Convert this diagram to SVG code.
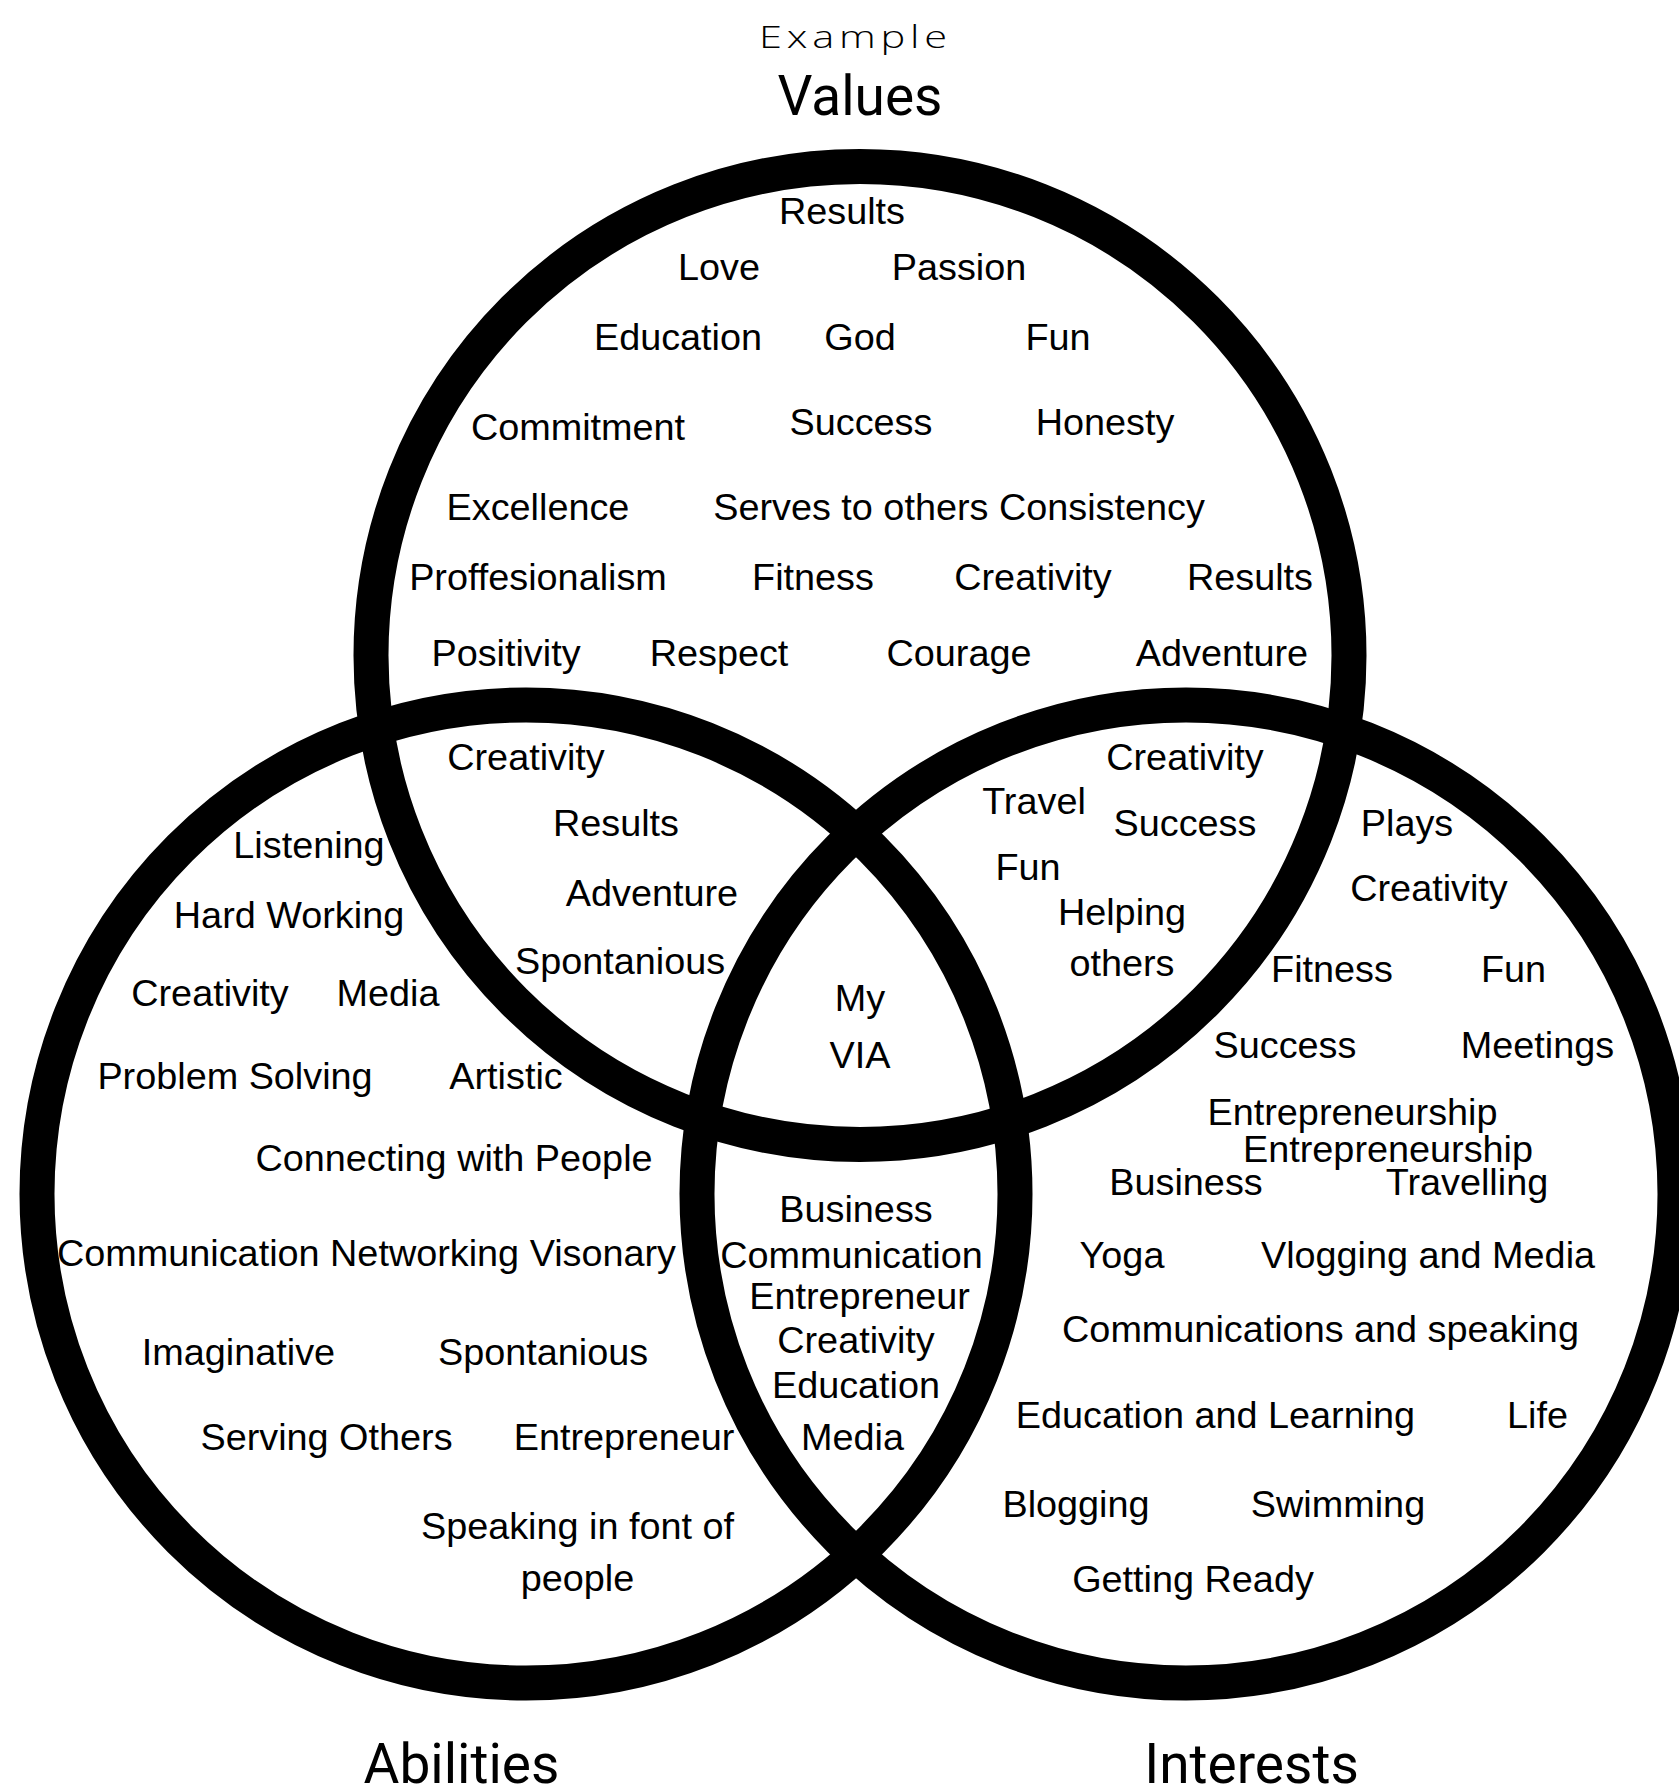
<svg xmlns="http://www.w3.org/2000/svg" width="1679" height="1790" viewBox="0 0 1679 1790">
<style>
.c{fill:none;stroke:#000;stroke-width:35}
.t{font-family:"Liberation Sans",Arial,sans-serif;font-size:37.8px;fill:#000;text-anchor:middle}
.h{font-family:Roboto,"Liberation Sans",sans-serif;font-size:55px;fill:#000;text-anchor:middle}
.e{font-family:"Open Sans","Liberation Sans",sans-serif;font-weight:300;font-size:32px;fill:#000;text-anchor:middle}
</style>
<rect width="1679" height="1790" fill="#fff"/>
<g id="connectors">
<circle id="values-circle" class="c" cx="860" cy="655.5" r="489"/>
<circle id="abilities-circle" class="c" cx="526" cy="1194" r="489"/>
<circle id="interests-circle" class="c" cx="1186" cy="1194" r="489"/>
</g>
<g id="titles">
<text class="e" transform="translate(853,48) scale(1.3,1)" x="0" y="0" textLength="144.6" lengthAdjust="spacing">Example</text>
<text class="h" x="860" y="115">Values</text>
<text class="h" x="461.5" y="1783">Abilities</text>
<text class="h" x="1251.5" y="1783">Interests</text>
</g>
<g id="values" class="t">
<text x="842" y="224">Results</text>
<text x="719" y="280">Love</text>
<text x="959" y="280">Passion</text>
<text x="678" y="350">Education</text>
<text x="860" y="350">God</text>
<text x="1058" y="350">Fun</text>
<text x="578" y="440">Commitment</text>
<text x="861" y="435">Success</text>
<text x="1105" y="435">Honesty</text>
<text x="538" y="520">Excellence</text>
<text x="959" y="520">Serves to others Consistency</text>
<text x="538" y="590">Proffesionalism</text>
<text x="813" y="590">Fitness</text>
<text x="1033" y="590">Creativity</text>
<text x="1250" y="590">Results</text>
<text x="506" y="666">Positivity</text>
<text x="719" y="666">Respect</text>
<text x="959" y="666">Courage</text>
<text x="1222" y="666">Adventure</text>
</g>
<g id="values-abilities" class="t">
<text x="526" y="770">Creativity</text>
<text x="616" y="836">Results</text>
<text x="652" y="906">Adventure</text>
<text x="620" y="974">Spontanious</text>
</g>
<g id="values-interests" class="t">
<text x="1185" y="770">Creativity</text>
<text x="1034" y="814">Travel</text>
<text x="1185" y="836">Success</text>
<text x="1028" y="880">Fun</text>
<text x="1122" y="925">Helping</text>
<text x="1122" y="976">others</text>
</g>
<g id="center" class="t">
<text x="860" y="1011">My</text>
<text x="860" y="1068">VIA</text>
</g>
<g id="abilities" class="t">
<text x="309" y="858">Listening</text>
<text x="289" y="928">Hard Working</text>
<text x="210" y="1006">Creativity</text>
<text x="388" y="1006">Media</text>
<text x="235" y="1089">Problem Solving</text>
<text x="506" y="1089">Artistic</text>
<text x="454" y="1171">Connecting with People</text>
<text x="366.5" y="1266">Communication Networking Visonary</text>
<text x="238.5" y="1365">Imaginative</text>
<text x="543" y="1365">Spontanious</text>
<text x="326.5" y="1450">Serving Others</text>
<text x="624" y="1450">Entrepreneur</text>
<text x="577.5" y="1539">Speaking in font of</text>
<text x="577.5" y="1591">people</text>
</g>
<g id="abilities-interests" class="t">
<text x="856" y="1222">Business</text>
<text x="851.5" y="1268">Communication</text>
<text x="859.5" y="1309">Entrepreneur</text>
<text x="856" y="1353">Creativity</text>
<text x="856" y="1398">Education</text>
<text x="852.5" y="1450">Media</text>
</g>
<g id="interests" class="t">
<text x="1407" y="836">Plays</text>
<text x="1429" y="901">Creativity</text>
<text x="1332" y="982">Fitness</text>
<text x="1513.5" y="982">Fun</text>
<text x="1285" y="1058">Success</text>
<text x="1537.5" y="1058">Meetings</text>
<text x="1352.5" y="1125">Entrepreneurship</text>
<text x="1388" y="1162">Entrepreneurship</text>
<text x="1186" y="1195">Business</text>
<text x="1467" y="1195">Travelling</text>
<text x="1122" y="1268">Yoga</text>
<text x="1428" y="1268">Vlogging and Media</text>
<text x="1320.5" y="1342">Communications and speaking</text>
<text x="1215.5" y="1428">Education and Learning</text>
<text x="1537.5" y="1428">Life</text>
<text x="1076" y="1517">Blogging</text>
<text x="1338" y="1517">Swimming</text>
<text x="1193" y="1592">Getting Ready</text>
</g>
</svg>
